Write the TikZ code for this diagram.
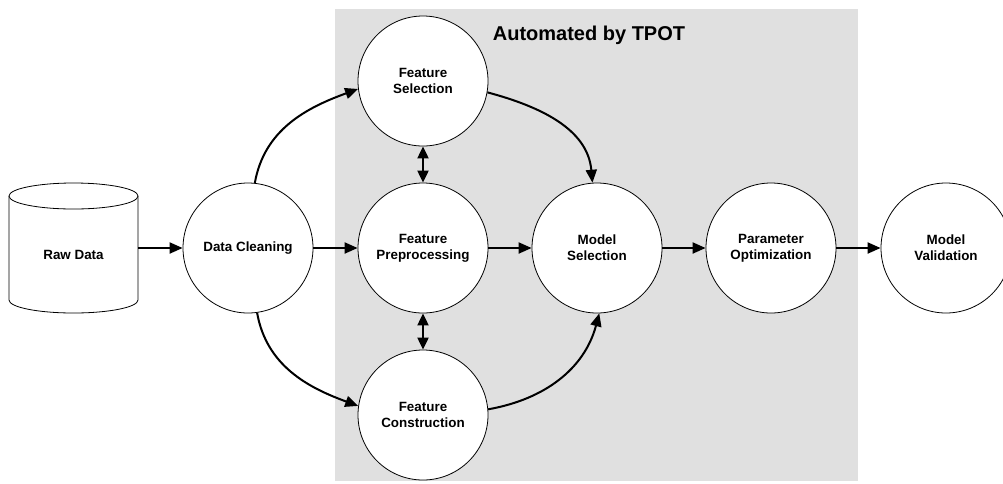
\documentclass[tikz,border=0pt]{standalone}
\usepackage{fontspec}
\setmainfont{Liberation Sans}
\usetikzlibrary{arrows.meta}
\definecolor{autogray}{HTML}{E0E0E0}
\tikzset{
  proc/.style={circle, draw=black, line width=0.8pt, fill=white, minimum size=130pt, inner sep=0pt, align=center, font=\fontsize{13.4}{16}\selectfont\bfseries},
  conn/.style={line width=2pt, -{Triangle[length=13pt,width=11pt]}},
  biconn/.style={line width=2pt, {Triangle[length=12pt,width=11pt]}-{Triangle[length=12pt,width=11pt]}},
}
\begin{document}
\begin{tikzpicture}[x=1pt,y=-1pt]
\useasboundingbox (0,0) rectangle (1003,483);
\clip (0,0) rectangle (1003,483);
% automated region
\fill[autogray] (335,9) rectangle (858,481);
\node[font=\fontsize{20}{24}\selectfont\bfseries, anchor=base] (auto) at (589,40) {Automated by TPOT};
% raw data cylinder
\node[minimum width=129pt, minimum height=130pt, inner sep=0pt] (raw) at (73.5,248) {};
\draw[line width=0.8pt, fill=white] (9,196) -- (9,300) arc[start angle=180, end angle=0, x radius=64.5, y radius=13] -- (138,196);
\draw[line width=0.8pt, fill=white] (73.5,196) ellipse[x radius=64.5, y radius=13];
\node[font=\fontsize{13.4}{16}\selectfont\bfseries] (rawtxt) at (73.5,255) {Raw Data};
% process circles
\node[proc] (dc) at (248,248) {Data Cleaning};
\node[proc] (fs) at (423,81) {Feature\\Selection};
\node[proc] (fp) at (423,248) {Feature\\Preprocessing};
\node[proc] (fc) at (423,415) {Feature\\Construction};
\node[proc] (ms) at (597,248) {Model\\Selection};
\node[proc] (po) at (771,248) {Parameter\\Optimization};
\node[proc] (mv) at (946,248) {Model\\Validation};
% connectors
\draw[conn] (raw.east) -- (dc.west);
\draw[conn] (dc.east) -- (fp.west);
\draw[conn] (fp.east) -- (ms.west);
\draw[conn] (ms.east) -- (po.west);
\draw[conn] (po.east) -- (mv.west);
\draw[biconn] (fs.south) -- (fp.north);
\draw[biconn] (fp.south) -- (fc.north);
\draw[conn] (dc.84) to[out=80, in=200] (fs.187);
\draw[conn] (dc.-82) to[out=-80, in=160] (fc.172);
\draw[conn] (fs.-10) to[out=-15, in=95] (ms.94);
\draw[conn] (fc.5) to[out=10, in=-105] (ms.-88);
\end{tikzpicture}
\end{document}
